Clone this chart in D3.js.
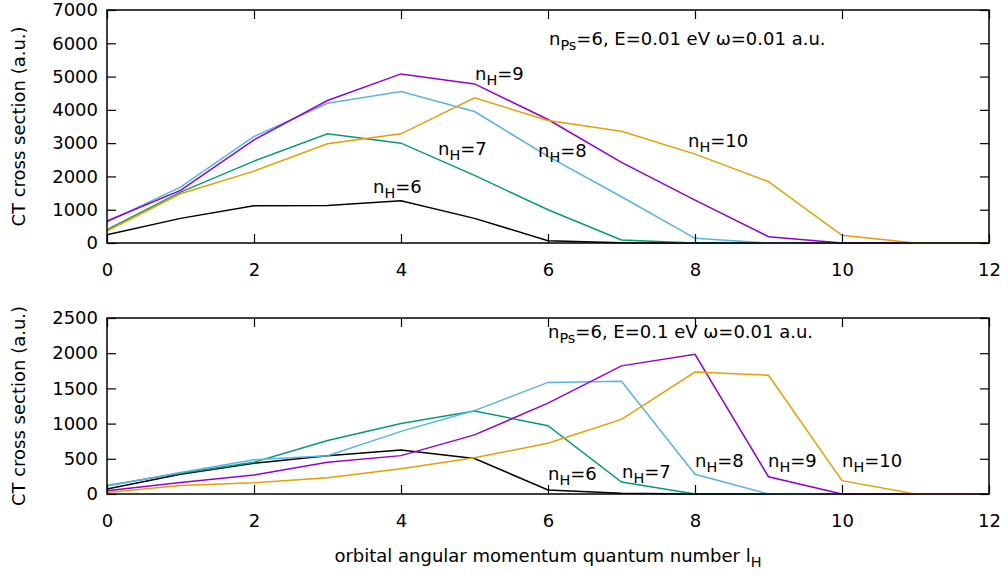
<!DOCTYPE html>
<html>
<head>
<meta charset="utf-8">
<script src="https://cdn.jsdelivr.net/npm/d3@7"></script>
<style>
  body { margin: 0; background: #fff; }
  text { font-family: "DejaVu Sans", sans-serif; fill: #000; }
</style>
</head>
<body>
<script>
var w = 1008;
var h = 578;

// orbital angular momentum l_H
var lValues = [0, 1, 2, 3, 4, 5, 6, 7, 8, 9, 10, 11, 12];
var seriesNames = ["nH=6", "nH=7", "nH=8", "nH=9", "nH=10"];
var seriesColors = ["#000000", "#009e73", "#56b4e9", "#9400d3", "#e69f00"];

// top panel: E=0.01 eV
var top6  = [250, 740, 1120, 1130, 1270, 740, 70, 10, 0, 0, 0, 0, 0];
var top7  = [400, 1530, 2460, 3280, 3000, 2030, 1000, 90, 0, 0, 0, 0, 0];
var top8  = [630, 1680, 3200, 4200, 4550, 3950, 2600, 1390, 140, 0, 0, 0, 0];
var top9  = [660, 1580, 3100, 4280, 5080, 4780, 3710, 2420, 1290, 190, 0, 0, 0];
var top10 = [360, 1480, 2160, 2980, 3280, 4360, 3680, 3360, 2670, 1840, 230, 0, 0];

// bottom panel: E=0.1 eV
var bot6  = [70, 280, 435, 545, 625, 505, 57, 10, 0, 0, 0, 0, 0];
var bot7  = [120, 295, 450, 760, 1000, 1180, 970, 170, 0, 0, 0, 0, 0];
var bot8  = [115, 305, 485, 545, 890, 1185, 1585, 1600, 280, 0, 0, 0, 0];
var bot9  = [45, 165, 270, 450, 545, 840, 1290, 1820, 1985, 245, 0, 0, 0];
var bot10 = [20, 120, 160, 230, 360, 515, 720, 1060, 1733, 1686, 190, 0, 0];

var xTicks = [0, 2, 4, 6, 8, 10, 12];
var topYTicks = [0, 1000, 2000, 3000, 4000, 5000, 6000, 7000];
var botYTicks = [0, 500, 1000, 1500, 2000, 2500];

var svg = d3.select("body").append("svg")
  .attr("width", w)
  .attr("height", h);

var x = d3.scaleLinear().domain([0, 12]).range([107, 989]);

// helper: text with subscript
function subText(g, px, py, parts, size) {
  var t = g.append("text").attr("x", px).attr("y", py).style("font-size", size + "px");
  parts.forEach(function(p) {
    if (p.sub) {
      t.append("tspan").attr("dy", 5).style("font-size", (size * 0.8) + "px").text(p.s);
    } else {
      t.append("tspan").attr("dy", p.after ? -5 : 0).text(p.s);
    }
  });
  return t;
}

function panel(y0, y1, ymax, yTicks, series, annot, labels) {
  var y = d3.scaleLinear().domain([0, ymax]).range([y1, y0]);
  var g = svg.append("g");

  // data lines
  var line = d3.line()
    .x(function(d, i) { return x(lValues[i]); })
    .y(function(d) { return y(d); });
  series.forEach(function(s, i) {
    g.append("path")
      .attr("d", line(s))
      .attr("fill", "none")
      .attr("stroke", seriesColors[i])
      .attr("stroke-width", 1.5)
      .attr("stroke-linejoin", "miter");
  });

  // axes (gnuplot style, ticks inward, mirrored)
  var left = d3.axisLeft(y).tickValues(yTicks).tickSize(-9).tickPadding(9).tickFormat(d3.format("d"));
  var right = d3.axisRight(y).tickValues(yTicks).tickSize(-9).tickFormat("");
  var bottom = d3.axisBottom(x).tickValues(xTicks).tickSize(-9).tickPadding(20).tickFormat(d3.format("d"));
  var topA = d3.axisTop(x).tickValues(xTicks).tickSize(-9).tickFormat("");

  [[left, "translate(" + x(0) + ",0)"], [right, "translate(" + x(12) + ",0)"],
   [bottom, "translate(0," + y1 + ")"], [topA, "translate(0," + y0 + ")"]].forEach(function(a) {
    var ag = g.append("g").attr("transform", a[1]).call(a[0]);
    ag.select(".domain").remove();
    ag.selectAll("line").attr("stroke", "#000").attr("stroke-width", 1.2);
    ag.selectAll("text").style("font-size", "18px").style("font-family", "DejaVu Sans, sans-serif").attr("fill", "#000");
  });

  g.append("rect")
    .attr("x", x(0)).attr("y", y0)
    .attr("width", x(12) - x(0)).attr("height", y1 - y0)
    .attr("fill", "none").attr("stroke", "#000").attr("stroke-width", 1.5);

  // y title
  g.append("text")
    .attr("transform", "translate(25," + ((y0 + y1) / 2) + ") rotate(-90)")
    .attr("text-anchor", "middle")
    .style("font-size", "18px")
    .text("CT cross section (a.u.)");

  subText(g, annot.x, annot.y, [{s: "n"}, {s: "Ps", sub: true}, {s: annot.t, after: true}], 18);

  labels.forEach(function(l, i) {
    subText(g, l[0], l[1], [{s: "n"}, {s: "H", sub: true}, {s: seriesNames[i].slice(2), after: true}], 18);
  });
}

panel(10, 243, 7000, topYTicks, [top6, top7, top8, top9, top10],
  {x: 549, y: 45, t: "=6, E=0.01 eV \u03c9=0.01 a.u."},
  [[373, 193], [438, 155], [538, 157], [475, 80], [688, 147]]);

panel(318, 494, 2500, botYTicks, [bot6, bot7, bot8, bot9, bot10],
  {x: 548, y: 338, t: "=6, E=0.1 eV \u03c9=0.01 a.u."},
  [[548, 480], [622, 478], [695, 467], [768, 467], [842, 467]]);

// x title
var xt = svg.append("text")
  .attr("x", 548).attr("y", 562)
  .attr("text-anchor", "middle")
  .style("font-size", "18px");
xt.append("tspan").text("orbital angular momentum quantum number l");
xt.append("tspan").attr("dy", 5).style("font-size", "14.4px").text("H");
</script>
</body>
</html>
